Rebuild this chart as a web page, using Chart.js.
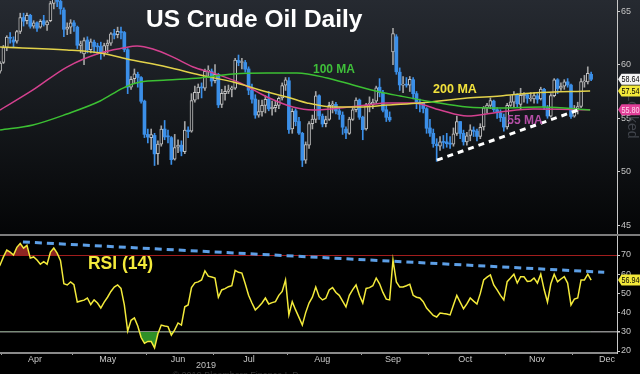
<!DOCTYPE html>
<html>
<head>
<meta charset="utf-8">
<script src="https://cdn.jsdelivr.net/npm/chart.js@4.4.1/dist/chart.umd.min.js"></script>
<style>
  html, body { margin: 0; padding: 0; background: #000; overflow: hidden; }
  #wrap { width: 640px; height: 374px; }
</style>
</head>
<body>
<div id="wrap"><canvas id="oilChart" width="640" height="374"></canvas></div>
<script>
// daily candles, trading-day index 0 = 28 Mar 2019
const opens = [
  59.40,59.40,60.20,61.60,62.50,62.30,62.20,63.10,64.40,64.10,
  64.60,63.60,63.90,63.50,64.10,63.70,64.10,65.70,66.30,65.90,
  65.10,63.30,63.50,63.90,63.50,61.80,61.00,62.30,61.40,62.10,
  61.70,61.70,61.10,61.80,62.00,62.90,62.80,63.10,63.00,61.40,
  57.90,58.70,59.10,58.80,56.60,53.50,53.20,53.40,51.70,52.60,
  54.00,53.30,53.20,51.20,52.30,52.50,51.90,53.90,53.80,56.70,
  57.40,57.90,57.80,59.40,59.40,58.50,59.10,56.30,57.30,57.50,
  57.70,57.80,60.40,60.20,60.20,59.60,57.60,56.80,55.30,55.60,
  56.20,56.80,55.90,56.00,56.20,56.90,58.10,58.50,54.00,55.70,
  54.70,53.60,51.10,52.50,54.50,54.90,57.10,55.20,54.50,54.90,
  56.20,56.30,55.70,55.30,54.00,53.60,54.90,55.80,56.70,55.10,
  54.00,56.30,56.30,56.60,57.90,57.40,55.80,55.10,61.20,62.60,
  59.30,58.10,58.10,58.10,58.60,57.30,56.50,56.40,55.90,54.10,
  53.60,52.60,52.40,52.80,52.80,52.60,52.60,53.60,54.70,53.60,
  52.80,53.40,53.90,53.80,53.30,54.20,56.00,56.20,56.60,55.80,
  55.50,55.10,54.20,56.20,56.50,57.20,56.30,57.10,57.20,56.80,
  56.80,57.10,56.80,57.70,56.00,55.20,57.10,58.60,57.80,58.00,
  58.40,58.10,55.20,55.90,56.10,58.40,58.40,59.10
];
const highs = [
  59.70,60.30,61.80,62.70,63.00,62.60,63.20,64.80,64.80,64.80,
  64.70,64.10,64.00,64.20,64.60,64.10,65.90,66.60,66.50,66.40,
  65.30,63.90,64.20,64.10,63.60,62.20,62.50,62.60,62.40,62.30,
  62.00,62.10,62.00,62.30,63.00,63.30,63.50,63.50,63.10,61.50,
  58.90,59.60,59.30,58.90,56.70,54.00,54.00,53.60,52.90,54.30,
  54.80,53.90,53.30,53.50,53.00,52.90,54.70,54.20,57.30,58.00,
  58.20,58.30,59.60,59.90,59.60,60.00,59.20,57.70,58.00,58.10,
  58.00,60.60,60.90,60.60,60.40,59.80,58.20,57.20,56.70,56.70,
  57.10,57.50,56.60,56.60,57.00,58.30,58.80,58.80,55.90,55.90,
  55.10,53.70,52.80,54.70,55.30,57.50,57.20,55.40,55.20,56.50,
  56.60,56.50,56.00,55.60,54.20,55.10,56.00,56.90,56.80,55.20,
  56.40,57.00,56.80,58.00,58.70,57.60,56.20,55.60,63.40,62.80,
  59.70,58.90,58.80,58.90,58.80,57.50,56.80,56.50,56.00,54.90,
  54.00,53.10,53.30,53.40,53.60,53.30,54.10,55.20,54.70,53.90,
  53.70,54.40,54.20,54.00,54.50,56.10,56.40,56.90,56.70,56.00,
  55.80,55.40,56.40,57.10,57.50,57.30,57.80,57.40,57.30,57.40,
  57.40,57.30,57.90,57.80,56.20,57.30,58.70,58.70,58.30,58.60,
  58.70,58.20,56.20,56.50,58.70,59.00,59.80,59.30
];
const lows = [
  58.60,59.20,60.10,61.30,62.00,61.60,62.00,62.90,63.60,63.80,
  63.40,63.40,63.10,63.40,63.60,63.20,64.00,65.20,65.40,64.70,
  62.60,62.80,62.90,63.10,61.50,61.10,60.00,61.10,61.10,61.10,
  61.00,60.50,60.80,61.10,61.80,62.40,62.50,62.40,61.20,57.30,
  57.70,58.30,57.90,56.40,53.20,52.70,52.10,50.60,50.70,52.40,
  53.00,52.70,50.70,51.10,51.80,51.50,51.70,53.20,53.70,56.50,
  56.80,56.90,57.60,58.80,58.00,58.30,56.00,56.00,56.70,57.30,
  57.00,57.70,59.90,59.60,59.30,57.20,56.40,55.00,55.10,55.20,
  55.50,55.70,55.30,55.60,55.90,56.70,57.60,53.60,53.60,54.30,
  53.50,50.50,50.80,52.20,54.00,54.60,54.90,54.20,54.20,54.80,
  55.50,55.40,54.90,53.50,53.10,53.50,54.80,55.60,54.90,53.00,
  53.90,55.60,55.90,56.40,57.00,55.60,54.70,54.70,60.00,59.10,
  57.60,57.40,57.90,57.50,56.80,55.90,55.60,55.50,53.60,53.30,
  52.30,50.99,52.00,52.20,52.30,52.20,52.40,53.40,53.10,52.50,
  52.50,52.90,53.30,52.90,53.10,53.90,55.50,55.90,55.60,55.00,
  54.70,53.80,54.00,56.10,56.00,56.00,55.90,56.50,56.40,56.60,
  56.40,56.40,56.70,55.80,55.00,55.10,57.00,57.30,57.60,57.70,
  57.90,55.00,55.10,55.40,56.00,57.90,58.20,58.50
];
const closes = [
  59.30,60.14,61.59,62.58,62.46,62.10,63.08,64.40,64.05,64.61,
  63.58,63.89,63.40,64.05,63.76,64.00,65.70,66.30,65.89,65.21,
  63.30,63.50,63.91,63.60,61.81,61.94,62.25,61.40,62.12,61.70,
  61.66,61.04,61.78,62.02,62.87,62.76,63.10,62.99,61.42,57.91,
  58.63,59.14,58.81,56.59,53.50,53.25,53.48,51.68,52.59,53.99,
  53.26,53.27,51.14,52.28,52.51,51.93,53.90,53.76,56.65,57.43,
  57.90,57.83,59.38,59.43,58.47,59.09,56.25,57.34,57.51,57.66,
  57.83,60.43,60.20,60.21,59.58,57.62,56.78,55.30,55.63,56.22,
  56.77,55.88,56.02,56.20,56.87,58.05,58.58,53.95,55.66,54.69,
  53.63,51.09,52.54,54.50,54.93,57.10,55.23,54.47,54.87,56.21,
  56.34,55.68,55.35,54.17,53.64,54.93,55.78,56.71,55.10,53.94,
  56.26,56.30,56.52,57.85,57.40,55.75,55.09,54.85,62.90,59.34,
  58.11,58.13,58.09,58.64,57.29,56.49,56.41,55.91,54.07,53.62,
  52.64,52.45,52.81,52.75,52.63,52.59,53.55,54.70,53.59,52.81,
  53.36,53.93,53.78,53.31,54.16,55.97,56.23,56.66,55.81,55.54,
  55.06,54.18,56.20,56.54,57.23,56.35,57.15,57.24,56.86,56.80,
  57.12,56.77,57.72,56.05,55.21,57.11,58.58,57.77,58.01,58.41,
  58.11,55.17,55.96,56.10,58.43,58.43,59.20,58.64
];
const rsi14 = [
  62,64.8,69,72.6,71.5,70,74,76,73.6,75,
  68.4,69,67.4,65.2,66.5,65.2,71.5,73.6,71,67,
  55,54.4,56,54.5,45.5,46,46.5,47.6,44.2,46.6,
  45,42.4,45.5,48,51,53.3,54.4,52.6,44,30.4,
  36,37.2,33,27,24,25,25,21.6,29,33.5,
  33,32.7,28.3,31,34.6,33.5,43,44,53,55.5,
  56,57,61.7,59,58.5,58,48,51.8,52.5,53.5,
  54,62,61,60.6,55,49,45,41.4,43,45,
  47.6,44.5,45.2,45.7,49,51,57,38.8,45.7,41.4,
  37.5,33.5,40,45,48,53.3,48.3,46.6,47.5,51.8,
  53,50.5,49,46,43,49,52,54.4,49,45,
  52.6,53,54,58,55,50.5,47,46.6,67.4,56,
  53.3,53.3,54,54.8,49,48,47.6,45.7,42.4,40.5,
  38.5,37.7,39.8,39.5,39.3,38.8,44,49,45.5,42,
  44.5,47.6,46,44.5,50,57,58.5,59.6,54.4,51.8,
  49,46.6,56.1,58,60,55.4,58.7,58.7,56.2,56.5,
  58,55.4,60,52,45.5,55,60,56.1,57.5,58.7,
  55.4,44,47,47.6,57,57,60,56.94
];

// moving averages: [day index, price]
const ma100 = [[1,53.91],[10.8,54.38],[20.9,55.40],[30.8,56.61],[37.6,57.82],[42.7,58.38],[50.7,58.57],[60.5,58.76],[70.4,59.13],[80.5,59.22],[89.4,59.22],[98.4,58.76],[106.1,58.10],[114.1,57.45],[120.1,57.08],[129.9,56.52],[140.1,56.05],[149.9,55.96],[162.7,56.05],[176.7,55.77]];
const ma200 = [[1,61.64],[20.9,61.37],[30.8,61.09],[38.8,60.53],[50.7,59.78],[60.5,59.04],[70.4,58.38],[80.5,57.45],[86.4,56.99],[92.4,56.43],[100.1,56.05],[108.2,56.05],[116.2,56.24],[126.1,56.43],[140.1,56.89],[149.9,57.08],[159.7,57.36],[176.7,57.54]];
const ma55 = [[1,55.77],[10.8,57.64],[20.9,59.78],[30.8,61.09],[37.6,61.55],[41.8,61.74],[46.5,61.46],[52.5,60.71],[58.5,59.78],[64.4,59.22],[72.5,58.29],[80.5,56.99],[88.2,56.05],[94.2,55.77],[102.2,55.96],[110.3,56.24],[116.2,56.43],[124,56.43],[132,55.77],[140.1,55.21],[149.9,55.59],[159.7,55.87],[176.7,55.80]];
const priceTrend = [[131.1,51.1],[173.1,55.77]];
const rsiTrend = [[7.8,76.8],[180.9,61]];

const monthLabels = ['Apr','May','Jun','Jul','Aug','Sep','Oct','Nov','Dec'];
const monthMids = [11.4,33.1,54,75.1,96.9,118,139.5,160.9,181.7];
const monthEdges = [1.5,22.5,44.5,64.5,86.5,108.5,128.5,151.5,171.5];
const priceTicks = [45,50,55,60,65];
const rsiTicks = [20,30,40,50,60,70];

const BLUE = '#3b8fe8';
const isDown = i => closes[i] < opens[i];
const pts = arr => arr.map(p => ({ x: p[0], y: p[1] }));

Chart.defaults.font.family = "'Liberation Sans', Arial, sans-serif";

const bodyData = opens.map((o, i) => ({ x: i, y: [o, closes[i]] }));
const wickData = lows.map((l, i) => ({ x: i, y: [l, highs[i]] }));
const rsiData = rsi14.map((v, i) => ({ x: i, y: v }));

function sideAxis(extra) {
  return Object.assign({
    type: 'linear', position: 'right', stack: 'panes', offset: false,
    afterFit: s => { s.width = 23; s.paddingTop = 0; s.paddingBottom = 0; },
    ticks: { color: '#c4c4c4', padding: 1, autoSkip: false, font: { size: 9 } },
    border: { color: '#c8c8c8', width: 1 }
  }, extra);
}

function tag(c, y, text, bg, fg) {
  c.beginPath();
  c.moveTo(618, y);
  c.lineTo(621.5, y - 5.5);
  c.lineTo(640, y - 5.5);
  c.lineTo(640, y + 5.5);
  c.lineTo(621.5, y + 5.5);
  c.closePath();
  c.fillStyle = bg;
  c.fill();
  c.save();
  c.translate(621.5, y + 0.5);
  c.scale(0.8, 1);
  c.fillStyle = fg;
  c.font = "9px 'Liberation Sans', Arial, sans-serif";
  c.textAlign = 'left';
  c.textBaseline = 'middle';
  c.fillText(text, 0, 0);
  c.restore();
}

function label(c, text, x, y, font, color) {
  c.font = font;
  c.fillStyle = color;
  c.textAlign = 'center';
  c.textBaseline = 'middle';
  c.fillText(text, x, y);
}

const panels = {
  id: 'panels',
  beforeDraw(chart) {
    const c = chart.ctx, y = chart.scales.y;
    c.save();
    c.fillStyle = '#000';
    c.fillRect(0, 0, chart.width, chart.height);
    const g = c.createLinearGradient(0, 0, 0, y.bottom);
    g.addColorStop(0, '#262a31');
    g.addColorStop(0.5, '#15181c');
    g.addColorStop(1, '#040506');
    c.fillStyle = g;
    c.fillRect(0, 0, chart.width, y.bottom);
    c.restore();
  },
  afterDraw(chart) {
    const c = chart.ctx, y = chart.scales.y, r = chart.scales.rsi;
    c.save();
    // separator between price and RSI panes
    c.strokeStyle = '#7c7c7c';
    c.lineWidth = 2;
    c.beginPath();
    c.moveTo(0, r.top);
    c.lineTo(chart.width, r.top);
    c.stroke();

    c.font = "bold 24.5px 'Liberation Sans', Arial, sans-serif";
    c.fillStyle = '#ffffff';
    c.textAlign = 'left';
    c.textBaseline = 'alphabetic';
    c.fillText('US Crude Oil Daily', 146, 27);

    label(c, '100 MA', 334, 70, "bold 12px 'Liberation Sans', Arial", '#3fbf3a');
    label(c, '200 MA', 455, 89.5, "bold 12.5px 'Liberation Sans', Arial", '#f2e23c');
    label(c, '55 MA', 525, 120.5, "bold 12px 'Liberation Sans', Arial", '#b44fa6');
    label(c, 'RSI (14)', 120.5, 264, "bold 17.5px 'Liberation Sans', Arial", '#f3ea3b');
    label(c, '2019', 206, 366, "9px 'Liberation Sans', Arial", '#c0c0c0');
    label(c, '\u00a9 2019 Bloomberg Finance L.P.', 236, 376, "9px 'Liberation Sans', Arial", '#333');

    c.save();
    c.translate(632, 116);
    c.rotate(Math.PI / 2);
    label(c, 'Locked', 0, 0, "14px 'Liberation Sans', Arial", '#41454c');
    c.restore();

    tag(c, y.getPixelForValue(closes[closes.length - 1]), closes[closes.length - 1].toFixed(2), '#f4f4f4', '#000');
    tag(c, y.getPixelForValue(ma200[ma200.length - 1][1]), ma200[ma200.length - 1][1].toFixed(2), '#f2e83a', '#000');
    tag(c, y.getPixelForValue(ma55[ma55.length - 1][1]), ma55[ma55.length - 1][1].toFixed(2), '#e03f98', '#ffd9ee');
    tag(c, r.getPixelForValue(rsi14[rsi14.length - 1]), rsi14[rsi14.length - 1].toFixed(3), '#f2e83a', '#000');
    c.restore();
  }
};

new Chart(document.getElementById('oilChart'), {
  type: 'line',
  data: {
    datasets: [
      { label: 'RSI < 30', data: rsiData, yAxisID: 'rsi', borderColor: 'rgba(0,0,0,0)', borderWidth: 0, pointRadius: 0,
        fill: { target: { value: 30 }, above: 'rgba(0,0,0,0)', below: '#2f8f28' }, order: 6 },
      { label: 'RSI (14)', data: rsiData, yAxisID: 'rsi', borderColor: '#f3ea3b', borderWidth: 1.5, pointRadius: 0,
        fill: { target: { value: 70 }, above: 'rgba(165,45,40,0.85)', below: 'rgba(0,0,0,0)' }, order: 3 },
      { label: 'RSI trend', data: pts(rsiTrend), yAxisID: 'rsi', borderColor: '#5d9fe6', borderWidth: 3,
        borderDash: [7, 5], pointRadius: 0, fill: false, order: 1 },
      { type: 'bar', label: 'Range', data: wickData, yAxisID: 'y', grouped: false, barThickness: 1,
        backgroundColor: c => isDown(c.dataIndex) ? BLUE : '#a4a4a4', borderWidth: 0, order: 5 },
      { type: 'bar', label: 'Body', data: bodyData, yAxisID: 'y', grouped: false, barThickness: 3, minBarLength: 1,
        borderSkipped: false,
        backgroundColor: c => isDown(c.dataIndex) ? BLUE : '#16191d',
        borderColor: c => isDown(c.dataIndex) ? BLUE : '#c2c2c2',
        borderWidth: c => isDown(c.dataIndex) ? 0 : 1, order: 4 },
      { label: '100 MA', data: pts(ma100), yAxisID: 'y', borderColor: '#3cc033', borderWidth: 1.5, pointRadius: 0,
        cubicInterpolationMode: 'monotone', fill: false, order: 2 },
      { label: '200 MA', data: pts(ma200), yAxisID: 'y', borderColor: '#e2d24a', borderWidth: 1.5, pointRadius: 0,
        cubicInterpolationMode: 'monotone', fill: false, order: 2 },
      { label: '55 MA', data: pts(ma55), yAxisID: 'y', borderColor: '#d4418f', borderWidth: 1.5, pointRadius: 0,
        cubicInterpolationMode: 'monotone', fill: false, order: 2 },
      { label: 'Support', data: pts(priceTrend), yAxisID: 'y', borderColor: '#ffffff', borderWidth: 3,
        borderDash: [6, 5], pointRadius: 0, fill: false, order: 1 }
    ]
  },
  options: {
    responsive: false,
    devicePixelRatio: 1,
    animation: false,
    events: [],
    layout: { padding: 0 },
    plugins: { legend: { display: false }, tooltip: { enabled: false } },
    scales: {
      x: {
        type: 'linear', position: 'bottom', min: 0.98, max: 184.7, offset: false,
        afterBuildTicks: s => { s.ticks = monthEdges.concat(monthMids).sort((a, b) => a - b).map(v => ({ value: v })); },
        afterFit: s => { s.height = 21; s.paddingLeft = 0; s.paddingRight = 0; },
        ticks: {
          autoSkip: false, maxRotation: 0, minRotation: 0, padding: 0, color: '#c8c8c8',
          font: { size: 9, lineHeight: 1 },
          callback: v => { const k = monthMids.indexOf(v); return k < 0 ? '' : monthLabels[k]; }
        },
        grid: {
          drawOnChartArea: false, offset: false, tickLength: 2,
          tickColor: c => (c.tick && monthEdges.includes(c.tick.value)) ? '#a0a0a0' : 'rgba(0,0,0,0)'
        },
        border: { color: '#8a8a8a', width: 2 }
      },
      y: sideAxis({
        stackWeight: 235, min: 44.12, max: 66.03,
        afterBuildTicks: s => { s.ticks = priceTicks.map(v => ({ value: v })); },
        grid: { drawOnChartArea: false, tickLength: 3, tickColor: '#d0d0d0' }
      }),
      rsi: sideAxis({
        stackWeight: 118, min: 18.96, max: 80.42,
        afterBuildTicks: s => { s.ticks = rsiTicks.map(v => ({ value: v })); },
        grid: {
          drawOnChartArea: true, tickLength: 3, tickColor: '#d0d0d0',
          color: c => c.tick.value === 70 ? '#a11d1d' : (c.tick.value === 30 ? '#8a8a8a' : 'rgba(0,0,0,0)'),
          lineWidth: c => c.tick.value === 30 ? 1.5 : 1
        }
      })
    }
  },
  plugins: [panels]
});
</script>
</body>
</html>
